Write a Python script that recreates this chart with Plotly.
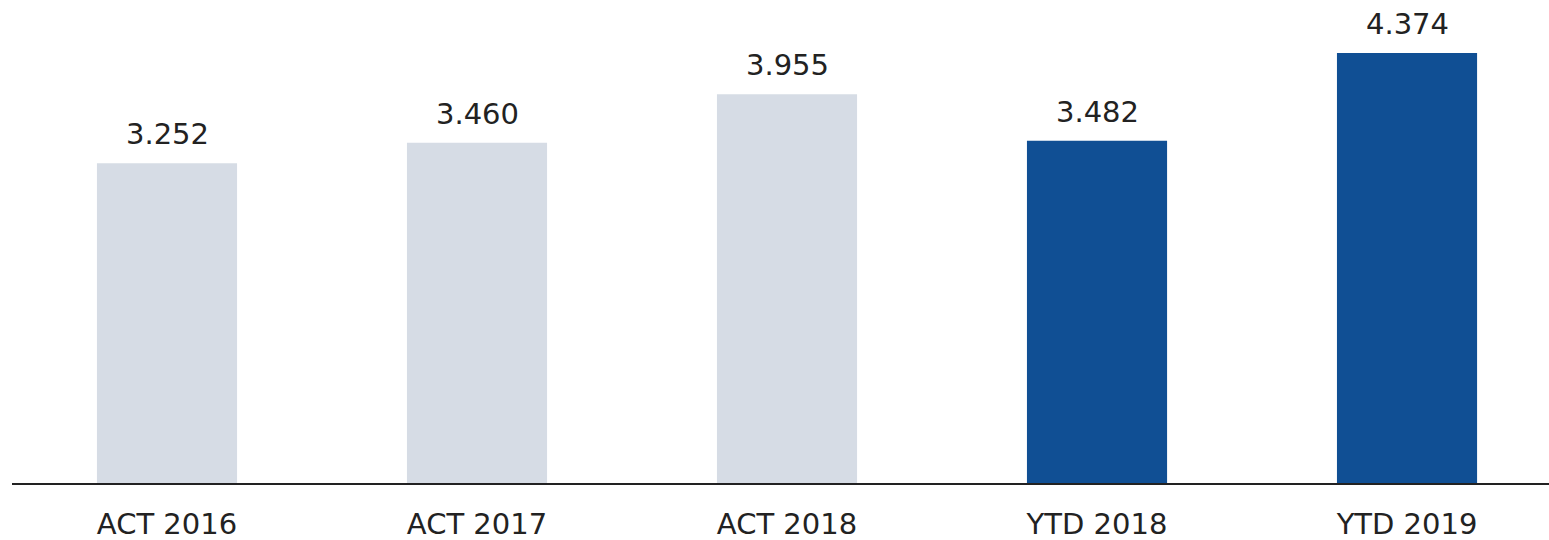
import plotly.graph_objects as go

categories = ["ACT 2016", "ACT 2017", "ACT 2018", "YTD 2018", "YTD 2019"]
values = [3.252, 3.460, 3.955, 3.482, 4.374]
labels = ["3.252", "3.460", "3.955", "3.482", "4.374"]
colors = ["#D6DCE5", "#D6DCE5", "#D6DCE5", "#104F94", "#104F94"]

font_family = "DejaVu Sans, Verdana, sans-serif"
text_color = "#222222"

fig = go.Figure()
fig.add_trace(go.Bar(
    x=categories, y=values, marker_color=colors, marker_line_width=0,
    hoverinfo="skip",
))

for c, v, t in zip(categories, values, labels):
    fig.add_annotation(x=c, y=v, text=t, showarrow=False, yanchor="bottom",
                       yshift=10, font=dict(family=font_family, size=29, color=text_color))

fig.update_layout(
    width=1549, height=540,
    margin=dict(l=12, r=0, t=0, b=57),
    plot_bgcolor="white", paper_bgcolor="white",
    bargap=0.548,
    showlegend=False,
    xaxis=dict(
        range=[-0.5, 4.458], showline=True, linecolor="#222222", linewidth=2,
        showgrid=False, zeroline=False, ticks="", automargin=False,
        tickfont=dict(family=font_family, size=29, color=text_color),
        ticklabelstandoff=14, fixedrange=True,
    ),
    yaxis=dict(range=[0, 4.913], visible=False, showgrid=False, zeroline=False, fixedrange=True),
)

fig.write_html("out.html", config={"displayModeBar": False, "staticPlot": True},
               post_script="document.body.style.margin='0';document.body.style.overflow='hidden';")
